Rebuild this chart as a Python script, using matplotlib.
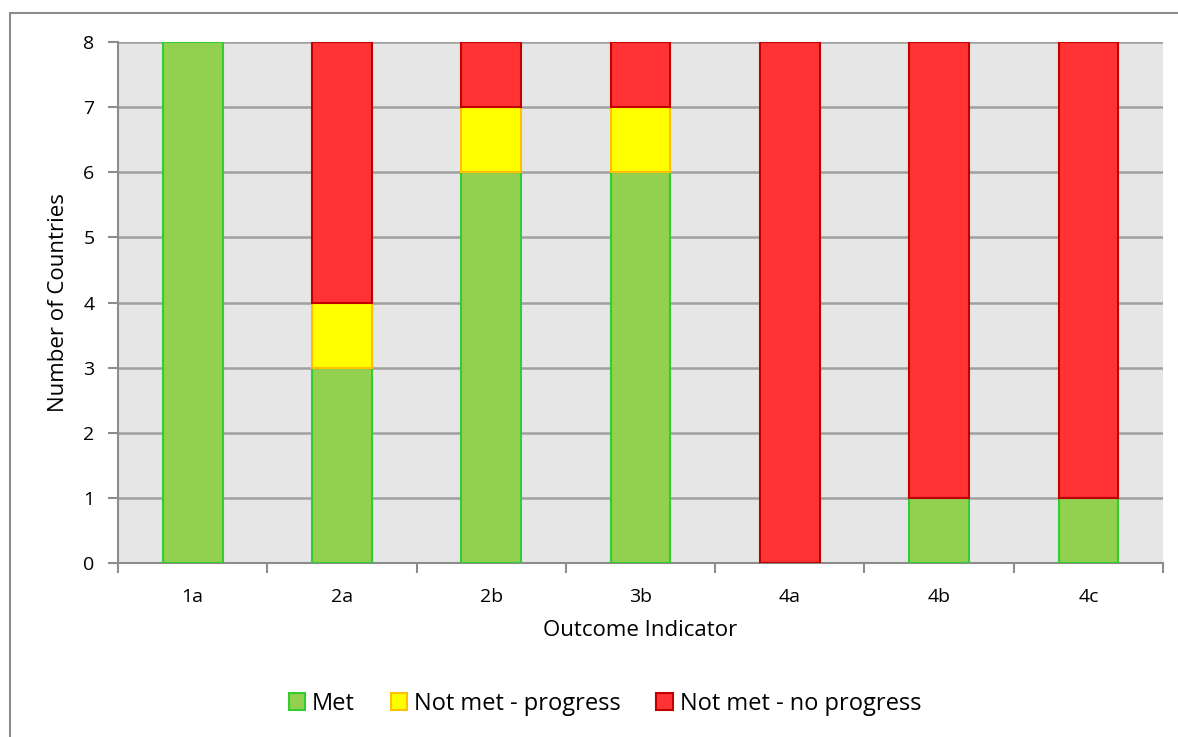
import matplotlib.pyplot as plt
import numpy as np
from matplotlib.patches import Rectangle

# outcome indicators and country counts per status
indicators = ['1a', '2a', '2b', '3b', '4a', '4b', '4c']
met = [8, 3, 6, 6, 0, 1, 1]
progress = [0, 1, 1, 1, 0, 0, 0]
no_progress = [0, 4, 1, 1, 8, 7, 7]

plt.rcParams['font.family'] = ['Open Sans', 'DejaVu Sans']

fig = plt.figure(figsize=(11.78, 7.37), dpi=100)
ax = fig.add_axes([0.1002, 0.2361, 0.8871, 0.7069])
ax.set_facecolor('#e6e6e6')

# thin frame around the whole chart
fig.patches.append(Rectangle((10 / 1178, -0.05), 1.2, 1 - 13 / 737 + 0.05,
                             transform=fig.transFigure, fill=False,
                             edgecolor='#8c8c8c', linewidth=1.5))

x = np.arange(len(indicators))
met = np.array(met)
progress = np.array(progress)
no_progress = np.array(no_progress)
w = 0.4


def stack(vals, bottom, face, edge, label):
    # skip empty segments so they leave no sliver on top of the stack
    bottom = np.broadcast_to(bottom, vals.shape)
    keep = vals > 0
    ax.bar(x[keep], vals[keep], w, bottom=bottom[keep], color=face,
           edgecolor=edge, linewidth=1.3, label=label, zorder=3)


stack(met, 0, '#92d050', '#33cc33', 'Met')
stack(progress, met, '#ffff00', '#ffc000', 'Not met - progress')
stack(no_progress, met + progress, '#ff3333', '#c00000',
      'Not met - no progress')

ax.set_xlim(-0.5, len(indicators) - 0.5)
ax.set_ylim(0, 8)
ax.set_yticks(range(9))
ax.yaxis.grid(True, color='#a0a0a0', linewidth=1.8, zorder=0)
ax.set_axisbelow(True)

# category boundaries carry the tick marks, labels sit between them
ax.set_xticks(np.arange(-0.5, len(indicators)), minor=False)
ax.set_xticklabels([])
ax.set_xticks(x, minor=True)
ax.set_xticklabels(indicators, minor=True)
ax.tick_params(axis='x', which='minor', length=0, pad=18, labelsize=14)
ax.tick_params(axis='x', which='major', length=7, width=1.5,
               color='#8c8c8c', direction='out')
ax.tick_params(axis='y', length=7, width=1.5, color='#8c8c8c',
               labelsize=14, pad=10)

for side in ['top', 'right']:
    ax.spines[side].set_visible(False)
for side in ['left', 'bottom']:
    ax.spines[side].set_color('#8c8c8c')
    ax.spines[side].set_linewidth(1.5)

ax.set_xlabel('Outcome Indicator', fontsize=16, labelpad=10)
ax.set_ylabel('Number of Countries', fontsize=16, labelpad=10)

handles, labels = ax.get_legend_handles_labels()
for h in handles:
    for p in h.patches:
        p.set_linewidth(1.5)
fig.legend(handles, labels, loc='center',
           bbox_to_anchor=(605 / 1178, 1 - 704 / 737),
           ncol=3, frameon=False, fontsize=17, handlelength=0.7,
           handleheight=0.7, handletextpad=0.3, columnspacing=1.5)

fig.savefig('out.png', dpi=100)
